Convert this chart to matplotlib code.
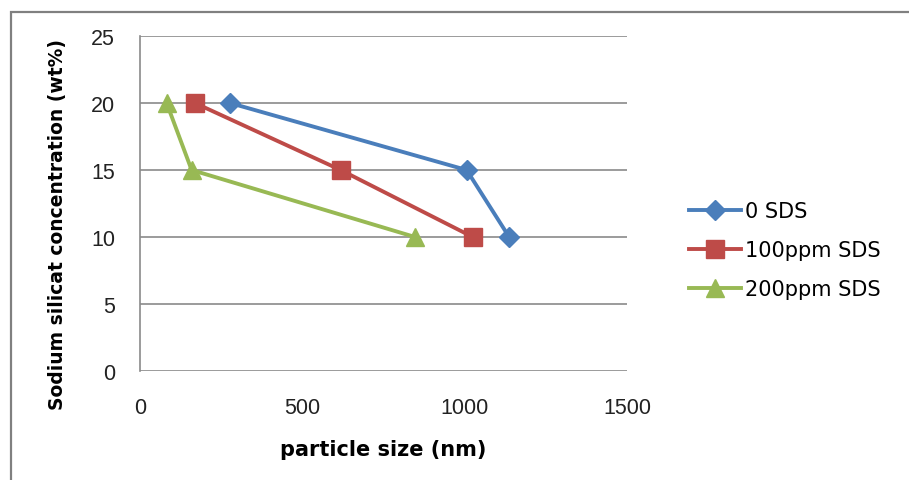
import matplotlib
matplotlib.use("Agg")
import matplotlib.pyplot as plt
from matplotlib.patches import Rectangle

plt.rcParams['font.family'] = ['Liberation Sans', 'DejaVu Sans']

conc = [20, 15, 10]
sds0 = [277, 1006, 1137]
sds100 = [169, 618, 1025]
sds200 = [82, 159, 847]
labels = ["0 SDS", "100ppm SDS", "200ppm SDS"]
colors = ["#4A7EBB", "#BE4B48", "#98B954"]
markers = ["D", "s", "^"]
msizes = [10, 13.5, 13.5]
xticks = [0, 500, 1000, 1500]
yticks = [0, 5, 10, 15, 20, 25]

W, H = 909, 481
fig = plt.figure(figsize=(W / 100, H / 100), dpi=100)
fig.patch.set_facecolor("white")
fig.patches.append(Rectangle((10.5 / W, -0.1), 1.2, 1.1 - 13 / H, transform=fig.transFigure,
                             fill=False, edgecolor="#808080", linewidth=1.6))
ax = fig.add_axes([140 / W, 1 - 372 / H, (627 - 140) / W, (372 - 37) / H])
for x, lab, c, m, ms in zip([sds0, sds100, sds200], labels, colors, markers, msizes):
    ax.plot(x, conc, color=c, marker=m, markersize=ms, linewidth=2.8, label=lab, clip_on=False, zorder=3)

ax.set_xlim(0, 1500)
ax.set_ylim(0, 25)
ax.set_xticks(xticks)
ax.set_yticks(yticks)
ax.grid(axis="y", color="#8a8a8a", linewidth=1.2)
ax.set_axisbelow(True)
for s in ["top", "right", "bottom"]:
    ax.spines[s].set_visible(False)
ax.spines["left"].set_color("#8a8a8a")
ax.spines["left"].set_linewidth(1.2)
ax.tick_params(axis="both", length=0, labelsize=15.5, colors="#222222")
ax.tick_params(axis="x", pad=19)
ax.tick_params(axis="y", pad=18)

fig.text(383 / W, 1 - 450 / H, "particle size (nm)", fontsize=15, fontweight="bold",
         family=["DejaVu Sans"], ha="center", va="center")
fig.text(58 / W, 1 - 225 / H, "Sodium silicat concentration (wt%)", fontsize=13.5, fontweight="bold",
         family=["DejaVu Sans"], ha="center", va="center", rotation=90)

leg = fig.legend(loc="center left", bbox_to_anchor=(689 / W, 1 - 251 / H), frameon=False,
                 prop={"family": "DejaVu Sans", "size": 15}, handlelength=2.5,
                 handletextpad=0.2, labelspacing=0.92, borderpad=0, borderaxespad=0)

fig.savefig("out.png", dpi=100)
